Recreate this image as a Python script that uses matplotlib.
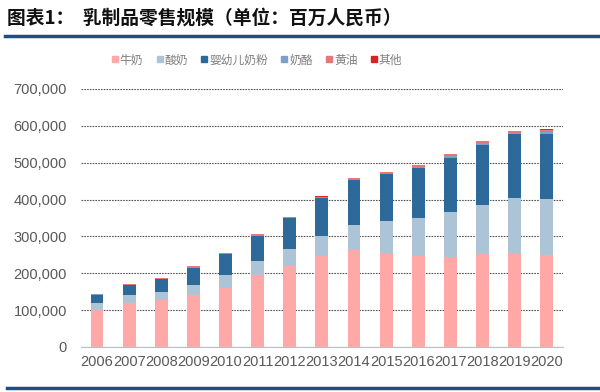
import matplotlib.pyplot as plt
import numpy as np
from matplotlib.lines import Line2D

plt.rcParams['font.family'] = ['Liberation Sans', 'Noto Sans CJK SC', 'DejaVu Sans']

years = ['2006', '2007', '2008', '2009', '2010', '2011', '2012', '2013',
         '2014', '2015', '2016', '2017', '2018', '2019', '2020']
milk = [101000, 118000, 127000, 140000, 161000, 195000, 220000, 247000,
        264000, 256000, 247000, 245000, 251000, 256000, 250000]
yogurt = [19000, 22000, 22000, 28000, 34000, 38000, 45000, 55000,
          68000, 85000, 104000, 120000, 134000, 149000, 151000]
infant = [22000, 28000, 35000, 47000, 56000, 69000, 84000, 101000,
          121000, 127000, 134000, 149000, 164000, 172000, 177000]
cheese = [500, 600, 700, 800, 1000, 1200, 1400, 1600,
          1800, 2200, 2600, 3200, 3800, 4500, 6000]
butter = [2000, 2500, 2700, 2800, 3200, 2700, 3000, 3600,
          3400, 5000, 5800, 6000, 4700, 4800, 6000]
other = [400, 400, 400, 400, 500, 500, 500, 600,
         600, 700, 700, 800, 800, 800, 800]

names = ['牛奶', '酸奶', '婴幼儿奶粉', '奶酪', '黄油', '其他']
colors = ['#FFA8A8', '#ADC3D6', '#2D6A99', '#7EA0C6', '#E57777', '#D92323']
series = [milk, yogurt, infant, cheese, butter, other]

fig = plt.figure(figsize=(6, 3.92), dpi=100)
fig.patch.set_facecolor('white')
ax = fig.add_axes([0.135, 0.115, 0.803, 0.658])

x = np.arange(len(years))
bottom = np.zeros(len(years))
handles = []
for name, vals, c in zip(names, series, colors):
    ax.bar(x, vals, width=0.4, bottom=bottom, color=c, zorder=3)
    bottom += np.array(vals)
    handles.append(Line2D([], [], marker='s', linestyle='none', color=c,
                          markersize=5, label=name))

ax.set_xlim(-0.5, len(years) - 0.5)
ax.set_ylim(0, 700000)
ax.set_yticks(np.arange(0, 700001, 100000))
ax.set_yticklabels([f'{v:,}' for v in range(0, 700001, 100000)])
ax.set_xticks(x)
ax.set_xticklabels(years)
ax.tick_params(axis='both', length=0, labelsize=10.5, colors='#595959')
ax.tick_params(axis='x', pad=6)
ax.tick_params(axis='y', pad=10)
ax.yaxis.grid(True, linestyle=(0, (1.5, 1)), color='#555555', linewidth=0.8, zorder=0)
for s in ['top', 'right', 'left']:
    ax.spines[s].set_visible(False)
ax.spines['bottom'].set_color('#BFBFBF')
ax.spines['bottom'].set_zorder(4)

leg = fig.legend(handles=handles, ncol=6, loc='center', bbox_to_anchor=(0.428, 0.847),
                 frameon=False, handlelength=0.6, handletextpad=0.1, columnspacing=1.1,
                 prop={'family': ['Noto Sans CJK SC'], 'size': 8.5})
for t in leg.get_texts():
    t.set_color('#7F7F7F')

fig.text(0.012, 0.955, '图表1：  乳制品零售规模（单位：百万人民币）', fontsize=13.5,
         fontweight='bold', family=['Noto Sans CJK SC', 'DejaVu Sans'],
         va='center', ha='left', color='#111111')
fig.add_artist(Line2D([0.008, 1.0], [0.907, 0.907], color='#1F4E85', linewidth=2.5))
fig.add_artist(Line2D([0.012, 1.0], [0.01, 0.01], color='#1F4E85', linewidth=2.5))

fig.savefig('out.png', dpi=100)
